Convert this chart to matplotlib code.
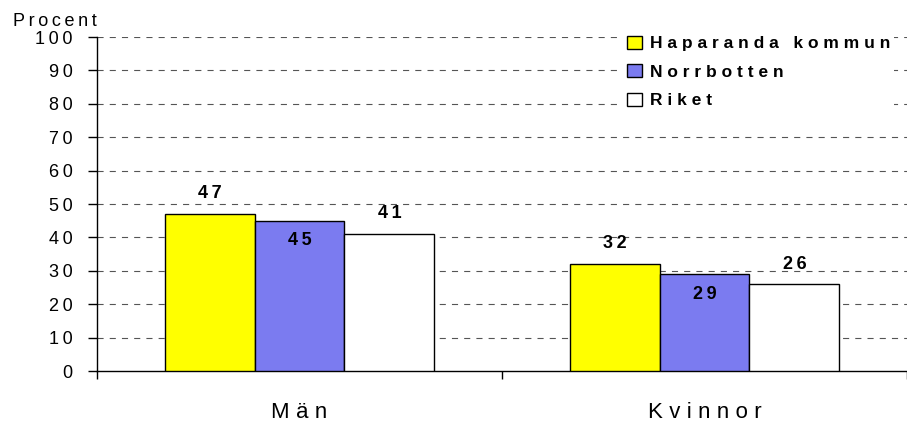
import numpy as np
import matplotlib
matplotlib.use('Agg')
import matplotlib.pyplot as plt
from matplotlib.patches import Patch

# Data
categories = ['Män', 'Kvinnor']
series = ['Haparanda kommun', 'Norrbotten', 'Riket']
haparanda = [47, 32]
norrbotten = [45, 29]
riket = [41, 26]
yticks = list(range(0, 101, 10))

colors = ['#ffff00', '#7b7bf0', '#ffffff']
# label inside (-1) or above (+1) bar top, as in the original
label_side = [[1, 1], [-1, -1], [1, 1]]

plt.rcParams['font.family'] = ['Liberation Sans', 'DejaVu Sans']

def spaced(s, sep='\u2009'):
    return sep.join(s)

fig = plt.figure(figsize=(9.07, 4.23), dpi=100)
ax = fig.add_axes([97/907, 52/423, 810/907, 334/423])

width = 0.222
x = np.arange(len(categories))
values = [haparanda, norrbotten, riket]
for j, (vals, col) in enumerate(zip(values, colors)):
    xpos = x + (j - 1) * width
    ax.bar(xpos, vals, width, color=col, edgecolor='black', linewidth=1.0,
           label=spaced(series[j]), zorder=3)
    for xi, v, side in zip(xpos, vals, label_side[j]):
        ax.annotate(spaced(str(v)), (xi, v), xytext=(0, 14.5 * side),
                    textcoords='offset points', ha='center', va='center',
                    fontsize=13, fontweight='bold', zorder=5)

ax.set_xlim(-0.5, -0.5 + 810/411)
ax.set_ylim(0, 100)
ax.set_yticks(yticks)
ax.set_yticklabels([spaced(str(t)) for t in yticks], fontsize=13)
ax.tick_params(axis='y', direction='out', length=6.5, width=1, pad=11)
ax.set_xticks(x)
ax.set_xticklabels([spaced(c, '\u2009\u200a') for c in categories], fontsize=16)
ax.tick_params(axis='x', which='major', length=0, pad=22)
ax.set_xticks([-0.5, 0.5, 1.5], minor=True)
ax.tick_params(axis='x', which='minor', direction='out', length=6, width=1)

for y in yticks[1:]:
    ax.axhline(y, color='#555555', linewidth=0.8, linestyle=(0, (5.5, 5.5)), zorder=1)

for s in ['top', 'right']:
    ax.spines[s].set_visible(False)
ax.spines['left'].set_linewidth(1)
ax.spines['bottom'].set_linewidth(1)

fig.text(13/907, 1 - 21/423, spaced('Procent'), fontsize=13, va='center', ha='left')

handles = [Patch(facecolor=c, edgecolor='black', linewidth=1) for c in colors]
leg = ax.legend(handles, [spaced(s, ' ') for s in series], loc='upper left',
                bbox_to_anchor=(614/907, 1 - 23/423), bbox_transform=fig.transFigure,
                frameon=True, fancybox=False, edgecolor='none', facecolor='white',
                framealpha=1, handlelength=0.85, handleheight=0.75, handletextpad=0.45,
                labelspacing=0.75, borderpad=0.25,
                prop={'size': 12.5, 'weight': 'bold'})
leg.set_zorder(6)

fig.savefig('out.png', dpi=100)
